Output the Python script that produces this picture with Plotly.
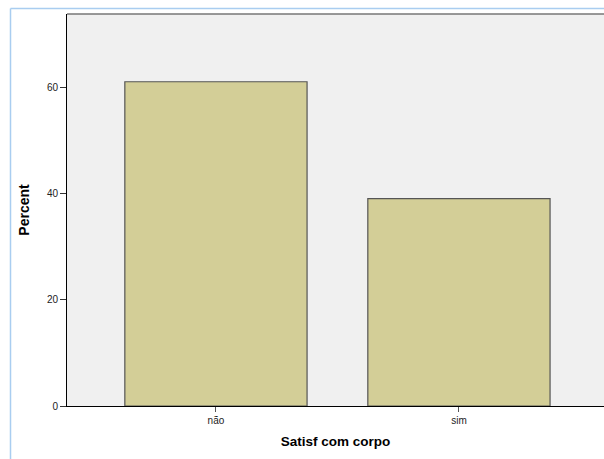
import plotly.graph_objects as go

categories = ["não", "sim"]
percents = [61.0, 39.0]
y_ticks = [0, 20, 40, 60]

W, H = 604, 459
L, T, B = 67, 14, 53
pw = W - L
ph = H - T - B

def px_x(x):
    return (x - L) / pw

def px_y(y):
    return 1 - (y - T) / ph

fig = go.Figure(go.Bar(
    x=[0, 1], y=percents,
    width=0.75,
    marker=dict(color="#d3ce97", line=dict(color="#555555", width=1.2)),
    hoverinfo="skip",
))

fig.update_layout(
    width=W, height=H,
    margin=dict(l=L, r=0, t=T, b=B, pad=0),
    paper_bgcolor="white",
    plot_bgcolor="#f0f0f0",
    showlegend=False,
    font=dict(family="Arial, Liberation Sans", color="#222222"),
    xaxis=dict(
        range=[-0.613, 1.597],
        tickmode="array", tickvals=[0, 1], ticktext=categories,
        ticks="outside", ticklen=5, tickcolor="#555555", tickwidth=1,
        showline=True, linecolor="black", linewidth=1,
        showgrid=False, zeroline=False,
        tickfont=dict(size=10, color="#222222"),
        title=dict(text="<b>Satisf com corpo</b>", font=dict(size=13.5, color="black"), standoff=11),
    ),
    yaxis=dict(
        range=[0, 73.75],
        tickmode="array", tickvals=y_ticks,
        ticks="outside", ticklen=6, tickcolor="#333333", tickwidth=1,
        showline=True, linecolor="black", linewidth=1,
        showgrid=False, zeroline=False,
        tickfont=dict(size=10, color="#222222"),
        title=dict(text="<b>Percent</b>", font=dict(size=14, color="black"), standoff=13),
    ),
    shapes=[
        dict(type="line", xref="paper", yref="paper", x0=0, x1=1, y0=1, y1=1,
             line=dict(color="#777777", width=1.5)),
        dict(type="line", xref="paper", yref="paper", x0=px_x(10.5), x1=px_x(10.5),
             y0=px_y(8.5), y1=px_y(470), line=dict(color="#a9cdf0", width=1.5)),
        dict(type="line", xref="paper", yref="paper", x0=px_x(10.5), x1=px_x(610),
             y0=px_y(8.5), y1=px_y(8.5), line=dict(color="#a9cdf0", width=1.5)),
    ],
)

fig.write_html(
    "out.html",
    config={"displayModeBar": False},
    post_script="document.body.style.margin='0';document.body.style.overflow='hidden';"
                "document.documentElement.style.overflow='hidden';",
)
